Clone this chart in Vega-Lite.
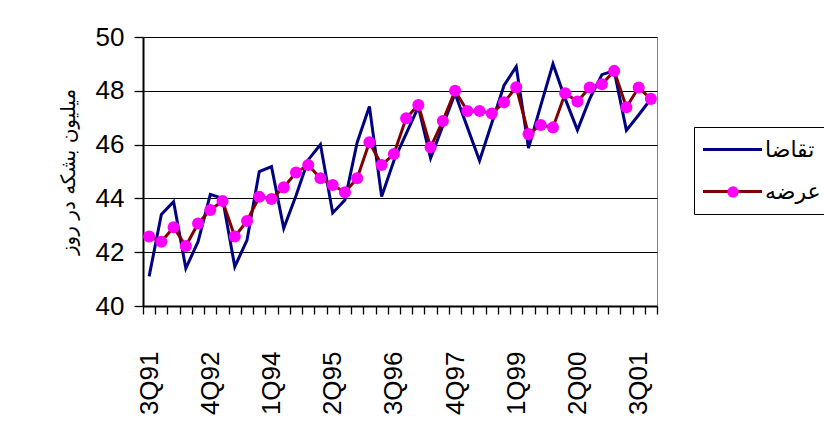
{
  "$schema": "https://vega.github.io/schema/vega-lite/v6.json",
  "width": 514,
  "height": 269,
  "autosize": {"type": "none"},
  "padding": {"left": 143, "top": 37, "right": 167, "bottom": 117},
  "background": "white",
  "config": {"view": {"stroke": "#808080", "strokeWidth": 1}},
  "data": {"values": [
    {"q": "3Q91", "series": "تقاضا", "v": 41.1},
    {"q": "4Q91", "series": "تقاضا", "v": 43.4},
    {"q": "1Q92", "series": "تقاضا", "v": 43.88},
    {"q": "2Q92", "series": "تقاضا", "v": 41.4},
    {"q": "3Q92", "series": "تقاضا", "v": 42.39},
    {"q": "4Q92", "series": "تقاضا", "v": 44.15},
    {"q": "1Q93", "series": "تقاضا", "v": 44.0},
    {"q": "2Q93", "series": "تقاضا", "v": 41.46},
    {"q": "3Q93", "series": "تقاضا", "v": 42.45},
    {"q": "4Q93", "series": "تقاضا", "v": 45.0},
    {"q": "1Q94", "series": "تقاضا", "v": 45.18},
    {"q": "2Q94", "series": "تقاضا", "v": 42.89},
    {"q": "3Q94", "series": "تقاضا", "v": 44.1},
    {"q": "4Q94", "series": "تقاضا", "v": 45.43},
    {"q": "1Q95", "series": "تقاضا", "v": 46.0},
    {"q": "2Q95", "series": "تقاضا", "v": 43.46},
    {"q": "3Q95", "series": "تقاضا", "v": 43.94},
    {"q": "4Q95", "series": "تقاضا", "v": 46.08},
    {"q": "1Q96", "series": "تقاضا", "v": 47.42},
    {"q": "2Q96", "series": "تقاضا", "v": 44.07},
    {"q": "3Q96", "series": "تقاضا", "v": 45.4},
    {"q": "4Q96", "series": "تقاضا", "v": 46.4},
    {"q": "1Q97", "series": "تقاضا", "v": 47.4},
    {"q": "2Q97", "series": "تقاضا", "v": 45.5},
    {"q": "3Q97", "series": "تقاضا", "v": 46.7},
    {"q": "4Q97", "series": "تقاضا", "v": 47.9},
    {"q": "1Q98", "series": "تقاضا", "v": 46.65},
    {"q": "2Q98", "series": "تقاضا", "v": 45.4},
    {"q": "3Q98", "series": "تقاضا", "v": 46.8},
    {"q": "4Q98", "series": "تقاضا", "v": 48.2},
    {"q": "1Q99", "series": "تقاضا", "v": 48.9},
    {"q": "2Q99", "series": "تقاضا", "v": 45.87},
    {"q": "3Q99", "series": "تقاضا", "v": 47.45},
    {"q": "4Q99", "series": "تقاضا", "v": 49.0},
    {"q": "1Q00", "series": "تقاضا", "v": 47.7},
    {"q": "2Q00", "series": "تقاضا", "v": 46.54},
    {"q": "3Q00", "series": "تقاضا", "v": 47.7},
    {"q": "4Q00", "series": "تقاضا", "v": 48.6},
    {"q": "1Q01", "series": "تقاضا", "v": 48.75},
    {"q": "2Q01", "series": "تقاضا", "v": 46.53},
    {"q": "3Q01", "series": "تقاضا", "v": 47.1},
    {"q": "4Q01", "series": "تقاضا", "v": 47.7},
    {"q": "3Q91", "series": "عرضه", "v": 42.58},
    {"q": "4Q91", "series": "عرضه", "v": 42.39},
    {"q": "1Q92", "series": "عرضه", "v": 42.93},
    {"q": "2Q92", "series": "عرضه", "v": 42.23},
    {"q": "3Q92", "series": "عرضه", "v": 43.07},
    {"q": "4Q92", "series": "عرضه", "v": 43.57},
    {"q": "1Q93", "series": "عرضه", "v": 43.9},
    {"q": "2Q93", "series": "عرضه", "v": 42.58},
    {"q": "3Q93", "series": "عرضه", "v": 43.16},
    {"q": "4Q93", "series": "عرضه", "v": 44.06},
    {"q": "1Q94", "series": "عرضه", "v": 43.98},
    {"q": "2Q94", "series": "عرضه", "v": 44.41},
    {"q": "3Q94", "series": "عرضه", "v": 44.96},
    {"q": "4Q94", "series": "عرضه", "v": 45.24},
    {"q": "1Q95", "series": "عرضه", "v": 44.75},
    {"q": "2Q95", "series": "عرضه", "v": 44.5},
    {"q": "3Q95", "series": "عرضه", "v": 44.23},
    {"q": "4Q95", "series": "عرضه", "v": 44.75},
    {"q": "1Q96", "series": "عرضه", "v": 46.09},
    {"q": "2Q96", "series": "عرضه", "v": 45.24},
    {"q": "3Q96", "series": "عرضه", "v": 45.65},
    {"q": "4Q96", "series": "عرضه", "v": 46.98},
    {"q": "1Q97", "series": "عرضه", "v": 47.47},
    {"q": "2Q97", "series": "عرضه", "v": 45.9},
    {"q": "3Q97", "series": "عرضه", "v": 46.88},
    {"q": "4Q97", "series": "عرضه", "v": 48.0},
    {"q": "1Q98", "series": "عرضه", "v": 47.25},
    {"q": "2Q98", "series": "عرضه", "v": 47.25},
    {"q": "3Q98", "series": "عرضه", "v": 47.16},
    {"q": "4Q98", "series": "عرضه", "v": 47.57},
    {"q": "1Q99", "series": "عرضه", "v": 48.13},
    {"q": "2Q99", "series": "عرضه", "v": 46.39},
    {"q": "3Q99", "series": "عرضه", "v": 46.73},
    {"q": "4Q99", "series": "عرضه", "v": 46.64},
    {"q": "1Q00", "series": "عرضه", "v": 47.91},
    {"q": "2Q00", "series": "عرضه", "v": 47.6},
    {"q": "3Q00", "series": "عرضه", "v": 48.12},
    {"q": "4Q00", "series": "عرضه", "v": 48.24},
    {"q": "1Q01", "series": "عرضه", "v": 48.74},
    {"q": "2Q01", "series": "عرضه", "v": 47.39},
    {"q": "3Q01", "series": "عرضه", "v": 48.12},
    {"q": "4Q01", "series": "عرضه", "v": 47.7}
  ]},
  "encoding": {
    "x": {
      "field": "q", "type": "ordinal", "sort": null, "bandPosition": 0.5,
      "scale": {"type": "band", "paddingInner": 0, "paddingOuter": 0},
      "axis": {
        "title": null, "grid": false, "tickBand": "extent", "tickSize": 8, "tickColor": "black", "tickWidth": 1.3,
        "domainColor": "black", "domainWidth": 2,
        "labelAngle": 270, "labelFont": "Liberation Sans", "labelFontSize": 26, "labelColor": "black", "labelPadding": 37,
        "labelOverlap": false,
        "labelExpr": "indexof(['3Q91','4Q92','1Q94','2Q95','3Q96','4Q97','1Q99','2Q00','3Q01'], datum.value) >= 0 ? datum.value : ''"
      }
    },
    "y": {
      "field": "v", "type": "quantitative",
      "scale": {"domain": [40, 50], "nice": false, "zero": false},
      "axis": {
        "title": "میلیون بشکه در روز", "titleFont": "DejaVu Sans", "titleFontSize": 20, "titleFontWeight": "normal", "titleColor": "black", "titlePadding": 17,
        "values": [40, 42, 44, 46, 48, 50], "tickSize": 9, "tickColor": "black", "tickWidth": 1.3,
        "labelFont": "Liberation Sans", "labelFontSize": 26, "labelColor": "black", "labelPadding": 10,
        "grid": true, "gridColor": "black", "gridWidth": 1.2, "domainColor": "black", "domainWidth": 2
      }
    }
  },
  "layer": [
    {
      "mark": {"type": "line", "strokeWidth": 3},
      "encoding": {
        "color": {
          "field": "series", "type": "nominal",
          "scale": {"domain": ["تقاضا", "عرضه"], "range": ["#000080", "#800000"]},
          "legend": {
            "orient": "none", "legendX": 551, "legendY": 90, "title": null, "padding": 11,
            "strokeColor": "black", "fillColor": "white",
            "symbolType": "M-3,0H3", "symbolSize": 387, "symbolStrokeWidth": 3, "symbolOffset": 16,
            "labelOffset": 21, "rowPadding": 19,
            "labelFont": "DejaVu Sans", "labelFontSize": 22, "labelColor": "black", "zindex": 1
          }
        }
      }
    },
    {
      "transform": [{"filter": {"field": "series", "equal": "عرضه"}}],
      "mark": {"type": "point", "filled": true, "color": "#FF00FF", "size": 145, "opacity": 1},
      "encoding": {
        "shape": {
          "field": "series", "type": "nominal",
          "scale": {"range": ["circle"]},
          "legend": {
            "orient": "none", "legendX": 584, "legendY": 149, "title": null, "padding": 0,
            "symbolType": "circle", "symbolSize": 130, "symbolFillColor": "#FF00FF", "symbolStrokeColor": "#FF00FF", "symbolStrokeWidth": 0,
            "labelExpr": "''", "labelFontSize": 1, "zindex": 2
          }
        }
      }
    }
  ]
}
